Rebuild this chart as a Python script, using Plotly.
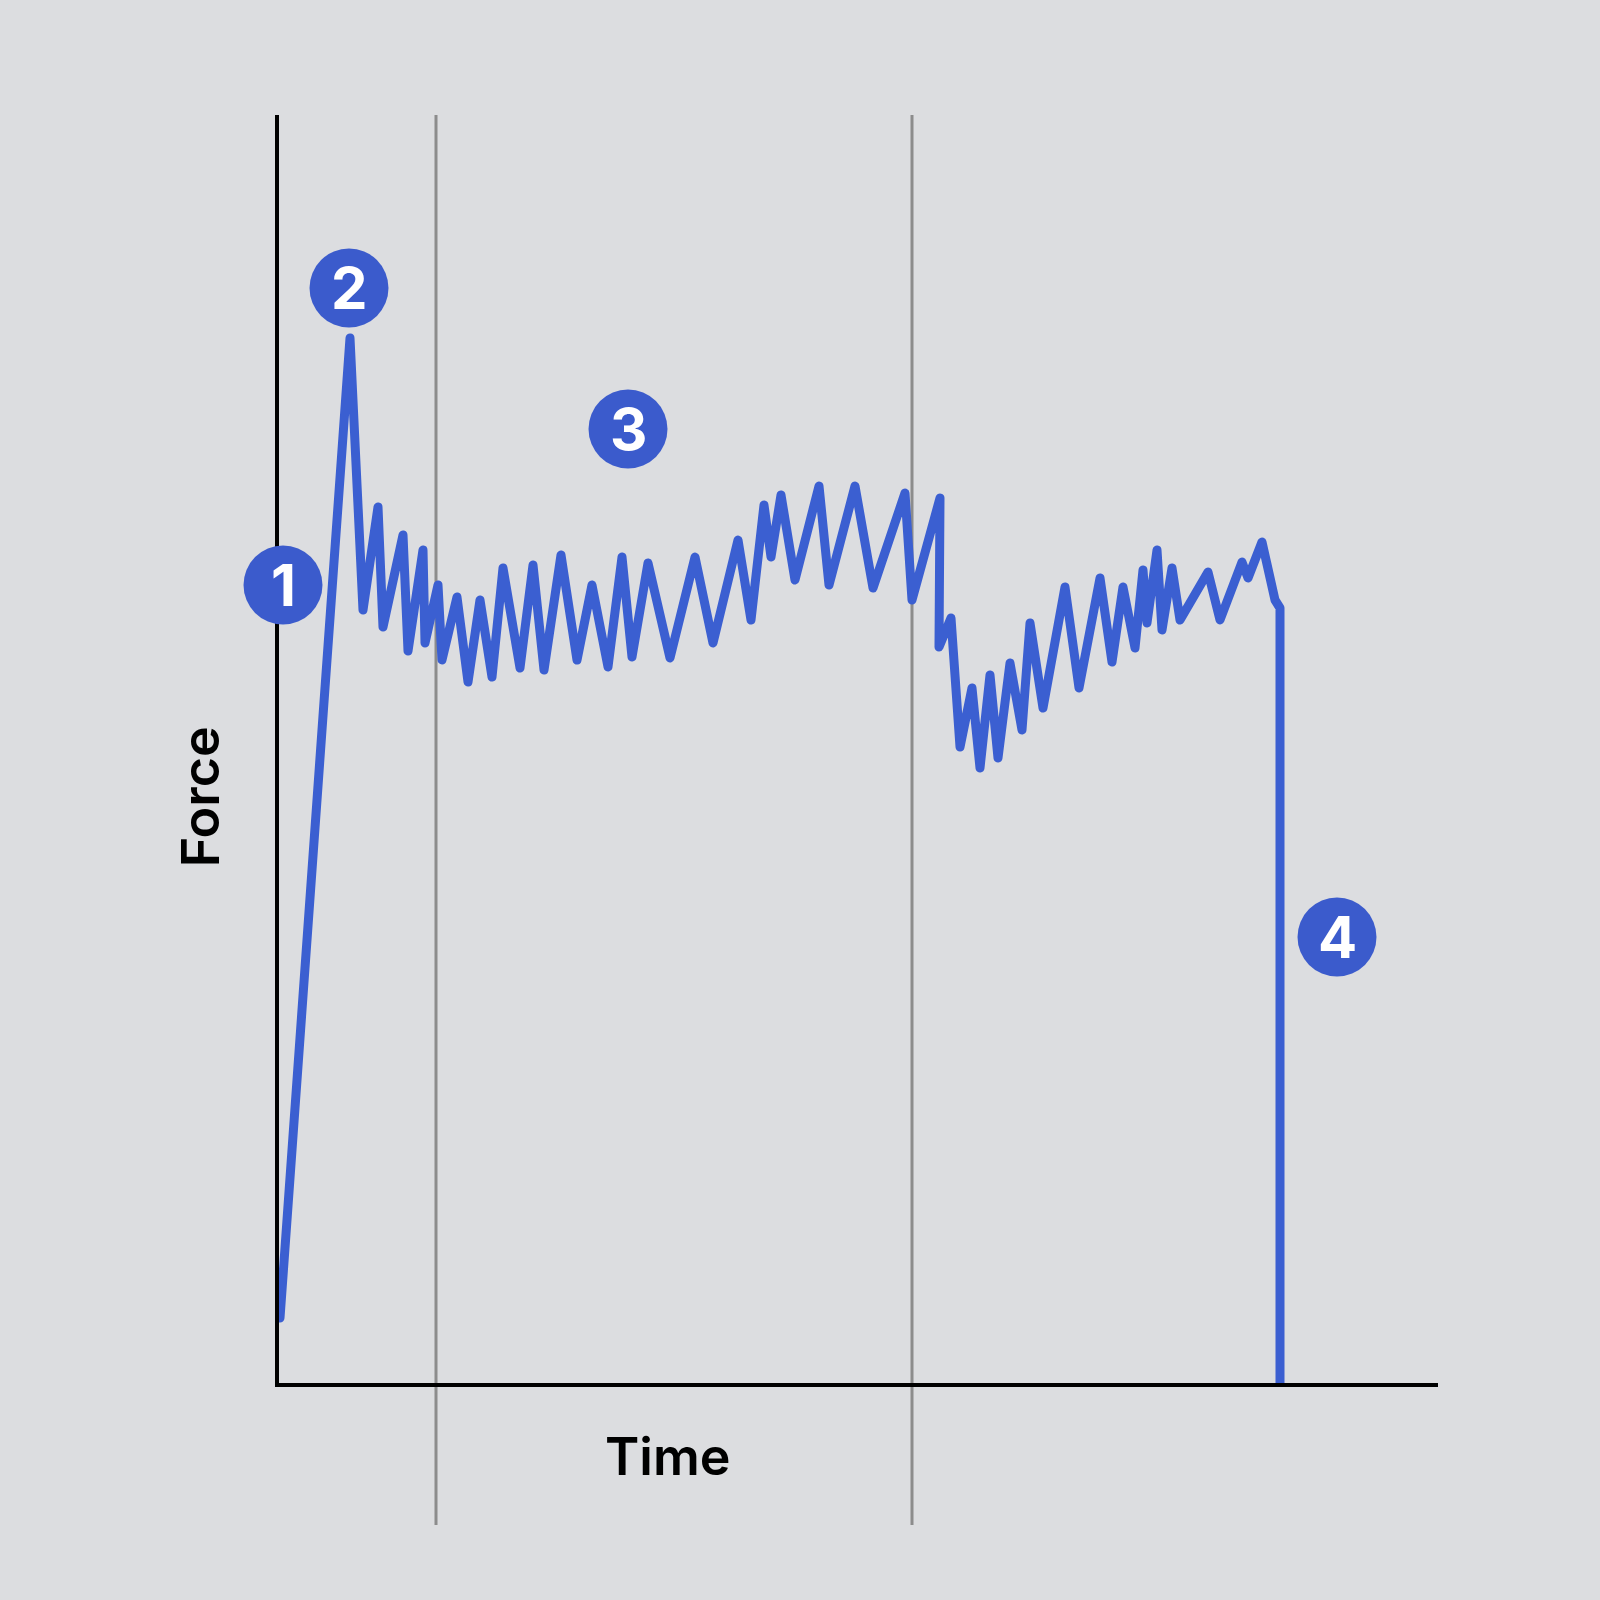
import plotly.graph_objects as go

# force trace, arbitrary units
time = [1, 71, 84, 99, 104, 124, 129, 144, 146, 159, 163, 178, 189, 201, 213,
        224, 241, 254, 265, 282, 298, 313, 329, 343, 353, 369, 391, 416, 434,
        459, 472, 485, 492, 502, 516, 540, 550, 576, 594, 626, 633, 661, 660,
        672, 681, 693, 701, 711, 719, 731, 743, 751, 764, 786, 800, 821, 833,
        844, 856, 864, 868, 878, 883, 893, 901, 929, 941, 963, 969, 983, 996,
        1001, 1001]
force = [65, 1045, 773, 876, 756, 848, 732, 833, 740, 798, 723, 786, 701, 783,
         706, 815, 715, 818, 713, 828, 723, 798, 716, 826, 726, 820, 725, 826,
         740, 843, 763, 878, 826, 888, 803, 897, 798, 897, 795, 890, 783, 885,
         736, 765, 636, 695, 615, 708, 625, 720, 653, 760, 675, 796, 695, 805,
         721, 796, 735, 813, 760, 833, 753, 815, 763, 811, 763, 821, 805, 841,
         783, 775, 0]

# phase boundaries (time)
phase_bounds = [157, 633]

# numbered callouts
marker_labels = ["1", "2", "3", "4"]
marker_time = [4, 70, 349, 1058]
marker_force = [798, 1095, 954, 446]

BLUE = "#3b5fd1"
BG = "#dcdde0"

fig = go.Figure()

fig.add_trace(go.Scatter(
    x=time, y=force, mode="lines",
    line=dict(color=BLUE, width=9),
    cliponaxis=False, hoverinfo="skip",
))

fig.add_trace(go.Scatter(
    x=marker_time, y=marker_force, mode="markers",
    marker=dict(size=79, color="#3b5bcc", line=dict(width=0)),
    cliponaxis=False, hoverinfo="skip",
))

# digits on the callouts
for lab, t, f in zip(marker_labels, marker_time, marker_force):
    fig.add_annotation(text="<b>" + lab + "</b>", x=t, y=f, xref="x", yref="y",
                       showarrow=False, xanchor="center", yanchor="middle",
                       font=dict(family="Inter", size=58, color="white"))

for b in phase_bounds:
    fig.add_shape(type="line", xref="x", yref="paper", x0=b, x1=b, y0=-0.112, y1=1,
                  line=dict(color="#8c8c8c", width=3), layer="below")

fig.add_annotation(text="Time", x=0.336, y=-0.058, xref="paper", yref="paper",
                   showarrow=False, xanchor="center", yanchor="middle",
                   font=dict(family="Inter", size=52, color="black", weight=600))
fig.add_annotation(text="Force", x=-0.068, y=0.462, xref="paper", yref="paper",
                   showarrow=False, xanchor="center", yanchor="middle", textangle=-90,
                   font=dict(family="Inter", size=52, color="black", weight=600))

fig.update_xaxes(range=[0, 1159], showline=True, linecolor="black", linewidth=4,
                 showgrid=False, zeroline=False, showticklabels=False, ticks="",
                 layer="below traces")
fig.update_yaxes(range=[0, 1268], showline=True, linecolor="black", linewidth=4,
                 showgrid=False, zeroline=False, showticklabels=False, ticks="",
                 layer="below traces")

fig.update_layout(
    width=1600, height=1600,
    margin=dict(l=279, r=162, t=115, b=217),
    paper_bgcolor=BG, plot_bgcolor=BG,
    showlegend=False,
)

# flush page edges and round line joins like the original drawing
post = """
document.body.style.margin = '0';
document.querySelectorAll('.scatterlayer .js-line').forEach(function (p) {
    p.style.strokeLinejoin = 'round';
    p.style.strokeLinecap = 'round';
});
"""

fig.write_html("out.html", post_script=post, config={'displayModeBar': False})
